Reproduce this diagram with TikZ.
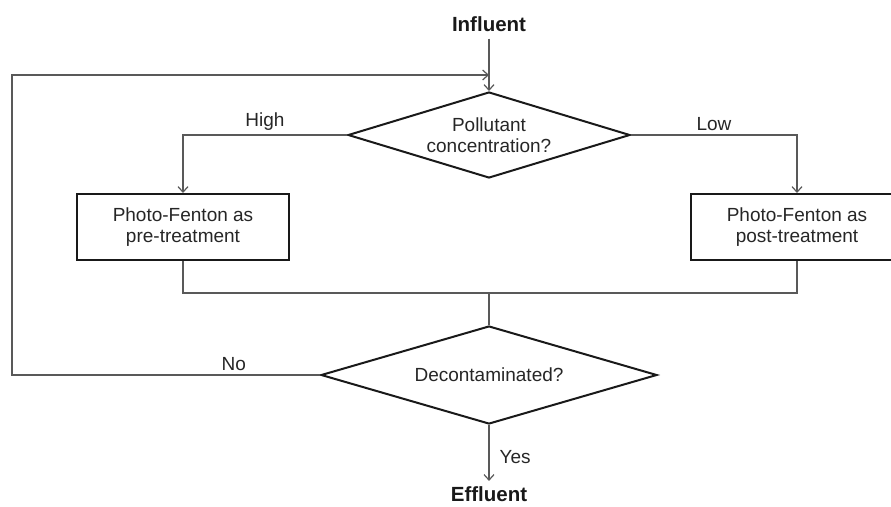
\documentclass[tikz,border=0pt]{standalone}
\usepackage{fontspec}
\setmainfont{Liberation Sans}
\usetikzlibrary{shapes.geometric,arrows.meta}

\begin{document}
\begin{tikzpicture}[x=1pt, y=-1pt,
    txt/.style={font=\fontsize{19}{21}\selectfont, text=black!85, align=center},
    endtxt/.style={font=\fontsize{20.5}{24}\selectfont\bfseries, text=black!90},
    procbox/.style={txt, draw=black!90, line width=2pt, minimum width=212pt, minimum height=66pt},
    decbox/.style={txt, diamond, draw=black!90, line width=2pt, inner sep=0pt},
    wire/.style={draw=black!65, line width=1.2pt},
    conn/.style={wire, -{Straight Barb[length=5.5pt,width=10pt]}},
    lbl/.style={txt, inner sep=4pt}]
      % \draw[help lines, gray!50, very thin] (0,0) grid[step=50] (891,506);
      \useasboundingbox (0,0) rectangle (891,506);
      \clip (0,0) rectangle (891,506);

      \node[endtxt] (infl) at (489,24) {Influent};
      \node[decbox, aspect=3.28, minimum width=282pt, minimum height=86pt] (conc) at (489,135) {Pollutant\\concentration?};
      \node[procbox] (pre) at (183,227) {Photo-Fenton as\\pre-treatment};
      \node[procbox] (post) at (797,227) {Photo-Fenton as\\post-treatment};
      \node[decbox, aspect=3.43, minimum width=336pt, minimum height=98pt] (decon) at (489,375) {Decontaminated?};
      \node[endtxt] (effl) at (489,494) {Effluent};

      \coordinate (join) at (489,75);
      \coordinate (back) at (12,75);
      \coordinate (mrg) at (489,293);

      \draw[conn, shorten <=3.5pt] (infl) -- (conc.north);
      \draw[conn] (conc.west) -| node[lbl, pos=0.25, above] {High} (pre.north);
      \draw[conn] (conc.east) -| node[lbl, pos=0.25, above] {Low} (post.north);
      \draw[wire] (pre.south) |- (mrg) -| (post.south);
      \draw[wire] (mrg) -- (decon.north);
      \draw[conn] (decon.west) -| node[lbl, pos=0.14, above] {No} (back) -- (join);
      \draw[conn, shorten >=2pt] (decon.south) -- node[lbl, right, xshift=6pt, pos=0.55] {Yes} (effl);
    \end{tikzpicture}
\end{document}
